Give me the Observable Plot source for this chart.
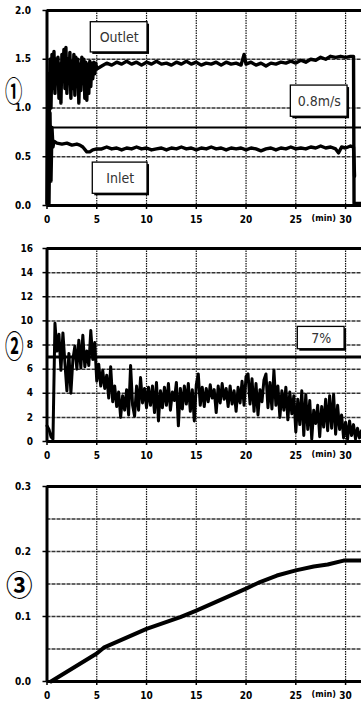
<!DOCTYPE html>
<html>
<head>
<meta charset="utf-8">
<script src="https://cdn.jsdelivr.net/npm/d3@7"></script>
<script src="https://cdn.jsdelivr.net/npm/@observablehq/plot@0.6"></script>
<style>
  body { margin: 0; background: #fff; }
  #chart { position: relative; width: 361px; height: 706px; overflow: hidden; background: #fff; }
  #chart svg { display: block; }
  .num { position: absolute; font-family: "Noto Sans CJK JP", sans-serif; font-weight: bold; color: #000; line-height: 1; transform-origin: left top; }
</style>
</head>
<body>
<div id="chart"></div>
<script>
// Shared time axis (minutes)
const minuteTicks = [0, 5, 10, 15, 20, 25, 30];
const timeLabel = "(min)";

// ① Velocity at outlet and inlet (m/s)
const velocityTicks = [0, 0.5, 1, 1.5, 2];
const velocityLimit = 0.8;
const outletReadings = [
  [0, 0.02], [0.1, 1.35], [0.2, 0.6], [0.3, 1.5], [0.4, 1.0], [0.5, 1.55], [0.6, 1.2], [0.7, 1.58],
  [0.8, 1.15], [0.9, 1.5], [1.0, 1.25], [1.1, 1.52], [1.2, 1.1], [1.3, 1.45], [1.4, 1.05], [1.5, 1.55],
  [1.6, 1.3], [1.7, 1.6], [1.8, 1.2], [1.9, 1.62], [2.0, 1.15], [2.1, 1.5], [2.2, 1.25], [2.3, 1.57],
  [2.4, 1.1], [2.5, 1.48], [2.6, 1.2], [2.7, 1.55], [2.8, 1.13], [2.9, 1.52], [3.0, 1.22], [3.1, 1.5],
  [3.2, 1.05], [3.3, 1.45], [3.4, 1.18], [3.5, 1.52], [3.6, 1.25], [3.7, 1.5], [3.8, 1.1], [3.9, 1.47],
  [4.0, 1.08], [4.1, 1.45], [4.2, 1.15], [4.3, 1.48], [4.4, 1.22], [4.5, 1.46], [4.6, 1.3], [4.7, 1.47],
  [4.8, 1.35], [4.9, 1.46], [5.0, 1.4], [5.5, 1.43], [6, 1.46], [6.5, 1.44], [7, 1.47], [7.5, 1.45],
  [8, 1.48], [8.5, 1.45], [9, 1.47], [9.5, 1.44], [10, 1.47], [10.5, 1.45], [11, 1.48], [11.5, 1.45],
  [12, 1.46], [12.5, 1.44], [13, 1.47], [13.5, 1.45], [14, 1.48], [14.5, 1.45], [15, 1.47], [15.5, 1.44],
  [16, 1.46], [16.5, 1.45], [17, 1.47], [17.5, 1.44], [18, 1.47], [18.5, 1.45], [19, 1.46], [19.5, 1.44],
  [19.8, 1.55], [20, 1.45], [20.5, 1.47], [21, 1.44], [21.5, 1.46], [22, 1.43], [22.5, 1.46], [23, 1.45],
  [23.5, 1.47], [24, 1.46], [24.5, 1.48], [25, 1.46], [25.5, 1.49], [26, 1.47], [26.5, 1.5], [27, 1.49],
  [27.5, 1.52], [28, 1.5], [28.5, 1.53], [29, 1.52], [29.5, 1.53], [30, 1.52], [30.5, 1.53], [30.8, 1.53],
  [30.85, 0.02], [31.6, 0.02]
];
const inletReadings = [
  [0.2, 0.02], [0.3, 0.95], [0.4, 0.25], [0.5, 0.8], [0.6, 0.6], [0.7, 0.66], [1, 0.64], [1.5, 0.63],
  [2, 0.64], [2.5, 0.62], [3, 0.63], [3.3, 0.62], [3.6, 0.6], [4.0, 0.55], [4.3, 0.55], [4.6, 0.57],
  [5, 0.58], [5.5, 0.58], [6, 0.6], [6.5, 0.58], [7, 0.59], [7.5, 0.57], [8, 0.59], [8.5, 0.58],
  [9, 0.6], [9.5, 0.58], [10, 0.59], [10.5, 0.57], [11, 0.58], [11.5, 0.59], [12, 0.57], [12.5, 0.59],
  [13, 0.58], [13.5, 0.6], [14, 0.58], [14.5, 0.59], [15, 0.57], [15.5, 0.59], [16, 0.58], [16.5, 0.6],
  [17, 0.58], [17.5, 0.59], [18, 0.57], [18.5, 0.59], [19, 0.58], [19.5, 0.59], [20, 0.57], [20.5, 0.59],
  [21, 0.58], [21.5, 0.56], [22, 0.58], [22.5, 0.59], [23, 0.57], [23.5, 0.59], [24, 0.58], [24.5, 0.6],
  [25, 0.58], [25.5, 0.59], [26, 0.58], [26.5, 0.6], [27, 0.59], [27.5, 0.61], [28, 0.59], [28.5, 0.6],
  [29, 0.58], [29.3, 0.54], [29.6, 0.6], [30, 0.59], [30.5, 0.61], [30.8, 0.6], [30.9, 0.3]
];
const velocityNotes = [
  {label: "Outlet", x1: 4.4, x2: 10.1, y1: 1.57, y2: 1.88},
  {label: "Inlet", x1: 4.6, x2: 10.1, y1: 0.12, y2: 0.44},
  {label: "0.8m/s", x1: 24.5, x2: 30.2, y1: 0.91, y2: 1.23}
];

// ② Concentration (%), sampled every 0.2 min
const concentrationStep = 0.2;
const concentrationTicks = [0, 2, 4, 6, 8, 10, 12, 14, 16];
const concentrationLimit = 7;
const concentration = [
  1.3, 1.0, 0.4, 0.2, 9.8, 7.5, 8.9, 5.9, 9.0, 6.5, 4.2, 7.3, 4.0, 6.8, 7.9, 6.0,
  8.4, 6.1, 8.8, 6.2, 7.5, 6.3, 9.2, 6.8, 8.2, 5.0, 6.4, 4.6, 5.9, 4.4, 5.5, 3.6,
  6.2, 3.3, 4.6, 2.9, 4.1, 2.0, 3.8, 2.6, 4.3, 2.2, 6.3, 3.0, 2.1, 4.6, 2.6, 5.3,
  3.2, 4.4, 2.8, 4.5, 3.0, 4.6, 2.4, 4.9, 1.7, 4.2, 2.8, 4.5, 3.0, 4.8, 2.6, 4.1,
  3.4, 4.9, 1.3, 4.4, 2.7, 4.6, 3.1, 4.8, 2.5, 4.3, 1.7, 4.7, 5.6, 3.0, 4.5, 2.9,
  4.4, 3.3, 4.7, 3.6, 4.3, 2.4, 4.6, 3.2, 4.8, 3.5, 4.4, 2.9, 4.6, 3.1, 4.2, 2.5,
  4.5, 3.2, 5.0, 3.0, 5.4, 5.6, 3.1, 5.2, 2.5, 4.8, 2.2, 4.3, 3.3, 5.1, 5.6, 2.8,
  4.9, 2.7, 5.9, 3.0, 4.6, 2.0, 4.2, 2.6, 4.5, 1.8, 4.1, 2.3, 3.8, 0.8, 3.5, 1.4,
  4.2, 0.5, 3.9, 1.0, 3.4, 0.2, 2.6, 1.5, 3.0, 0.4, 2.9, 1.2, 3.5, 0.9, 3.8, 1.1,
  3.9, 0.6, 3.0, 1.0, 2.2, 0.3, 1.6, 0.2, 1.7, 0.5, 1.4, 0.2, 1.1, 0.3, 0.9
];
const concentrationNotes = [
  {label: "7%", x1: 25.2, x2: 29.9, y1: 7.65, y2: 9.5}
];

// ③ Cumulative amount
const cumulativeTicks = [0, 0.1, 0.2, 0.3];
const cumulativeGrid = [0.05, 0.1, 0.15, 0.2, 0.25];
const cumulativeReadings = [
  [0.4, 0], [5, 0.043], [5.7, 0.052], [10, 0.081], [13.4, 0.099], [15, 0.109], [20, 0.143],
  [21.4, 0.153], [23.1, 0.163], [25, 0.171], [26.8, 0.177], [28.2, 0.18], [29.8, 0.186], [31.6, 0.186]
];

const toPoints = (rows) => rows.map(([t, v]) => ({t, v}));
const tickFont = '"Liberation Sans Narrow", "DejaVu Sans Condensed", "Arial Narrow", sans-serif';
const noteFont = '"DejaVu Sans Condensed", "Liberation Sans Narrow", sans-serif';

function noteMarks(notes) {
  return [
    Plot.rect(notes, {x1: "x1", x2: "x2", y1: "y1", y2: "y2", fill: "#000", dx: 2, dy: 2}),
    Plot.rect(notes, {x1: "x1", x2: "x2", y1: "y1", y2: "y2", fill: "#fff", stroke: "#000", strokeWidth: 1.3}),
    Plot.text(notes, {
      x: (d) => (d.x1 + d.x2) / 2, y: (d) => (d.y1 + d.y2) / 2, text: "label",
      fontSize: 14, fill: "#333", fontFamily: noteFont, fontWeight: "normal"
    })
  ];
}

function panel({height, marginTop, marginBottom, yDomain, yTicks, yGrid, yFormat, yPadding, marks}) {
  return Plot.plot({
    width: 361, height, marginLeft: 46.5, marginRight: 0, marginTop, marginBottom,
    x: {domain: [0, 31.6], label: null},
    y: {domain: yDomain, label: null},
    style: {background: "#fff", color: "#000", fontFamily: tickFont, fontSize: "10px", fontWeight: "bold"},
    marks: [
      Plot.gridX(minuteTicks.slice(1), {stroke: "#111", strokeOpacity: 1, strokeWidth: 1.2, strokeDasharray: "1.5,1"}),
      Plot.gridY(yGrid, {stroke: "#333", strokeOpacity: 1, strokeWidth: 1.5, strokeDasharray: "4,1"}),
      Plot.axisX(minuteTicks, {tickSize: 4, tickPadding: 6, strokeWidth: 1.5, fontWeight: "bold", label: null}),
      Plot.axisY(yTicks, {tickSize: 4, tickPadding: yPadding, strokeWidth: 1.5, tickFormat: yFormat, fontWeight: "bold", label: null}),
      Plot.text([{t: 27.8, label: timeLabel}], {x: "t", text: "label", frameAnchor: "bottom", dy: 15, fontSize: 9, fontWeight: "bold"}),
      ...marks,
      Plot.ruleX([0], {strokeWidth: 3}),
      Plot.ruleY([yDomain[0]], {strokeWidth: 3}),
      Plot.ruleY([yDomain[1]], {strokeWidth: 3})
    ]
  });
}

const chart = document.getElementById("chart");

chart.append(panel({
  height: 230, marginTop: 10, marginBottom: 25,
  yDomain: [0, 2], yTicks: velocityTicks, yGrid: [0.5, 1, 1.5], yFormat: d3.format(".1f"), yPadding: 12,
  marks: [
    Plot.ruleY([velocityLimit], {strokeWidth: 2}),
    Plot.line(toPoints(outletReadings), {x: "t", y: "v", stroke: "#000", strokeWidth: 3.4}),
    Plot.line(toPoints(inletReadings), {x: "t", y: "v", stroke: "#000", strokeWidth: 3.4}),
    ...noteMarks(velocityNotes)
  ]
}));

chart.append(panel({
  height: 235, marginTop: 18, marginBottom: 24,
  yDomain: [0, 16], yTicks: concentrationTicks, yGrid: concentrationTicks.slice(1, -1), yFormat: d3.format("d"), yPadding: 10,
  marks: [
    Plot.ruleY([concentrationLimit], {strokeWidth: 3}),
    Plot.line(concentration.map((v, i) => ({t: i * concentrationStep, v})), {x: "t", y: "v", stroke: "#000", strokeWidth: 3}),
    ...noteMarks(concentrationNotes)
  ]
}));

chart.append(panel({
  height: 241, marginTop: 21, marginBottom: 25,
  yDomain: [0, 0.3], yTicks: cumulativeTicks, yGrid: cumulativeGrid, yFormat: d3.format(".1f"), yPadding: 12,
  marks: [
    Plot.line(toPoints(cumulativeReadings), {x: "t", y: "v", stroke: "#000", strokeWidth: 4})
  ]
}));

// Panel numbers in the left margin
[["①", 5, 76, 28, 0.62], ["②", 5, 329, 30, 0.62], ["③", 6, 570, 28, 0.95]].forEach(([c, left, top, size, sx]) => {
  const d = document.createElement("div");
  d.className = "num";
  d.textContent = c;
  d.style.left = left + "px";
  d.style.top = top + "px";
  d.style.fontSize = size + "px";
  d.style.transform = `scaleX(${sx})`;
  chart.append(d);
});
</script>
</body>
</html>
